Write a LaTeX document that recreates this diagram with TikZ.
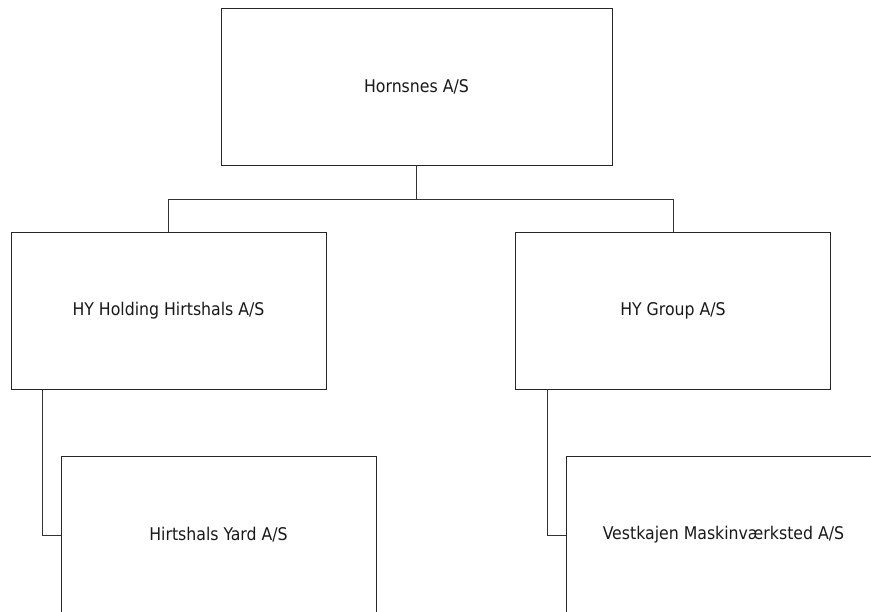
\documentclass[tikz,border=0pt]{standalone}
\usepackage{fontspec}
\setmainfont{DejaVu Sans Condensed}
\begin{document}
\begin{tikzpicture}[x=1pt,y=-1pt,
  orgbox/.style={draw=black!85, line width=0.8pt, fill=white, minimum width=315pt, minimum height=157pt, inner sep=0pt, font=\fontsize{17.5}{20}\selectfont, text=black!90},
  link/.style={draw=black!80, line width=0.8pt}]
\useasboundingbox (0,0) rectangle (871,612);
\clip (0,0) rectangle (871,612);
\node[orgbox, minimum width=391pt] (top) at (416.5,86.5) {Hornsnes A/S};
\node[orgbox] (hold) at (168.5,310.5) {HY Holding Hirtshals A/S};
\node[orgbox] (group) at (673,310.5) {HY Group A/S};
\node[orgbox] (yard) at (218.5,535) {Hirtshals Yard A/S};
\node[orgbox] (vest) at (723.5,535) {Vestkajen Maskinværksted A/S};
\coordinate (mid) at ([yshift=-34.5pt]top.south);
\draw[link] (top.south) -- (mid);
\draw[link] (mid) -| (hold.north);
\draw[link] (mid) -| (group.north);
\draw[link] ([xshift=32pt]hold.south west) |- (yard.west);
\draw[link] ([xshift=32pt]group.south west) |- (vest.west);
\end{tikzpicture}
\end{document}
